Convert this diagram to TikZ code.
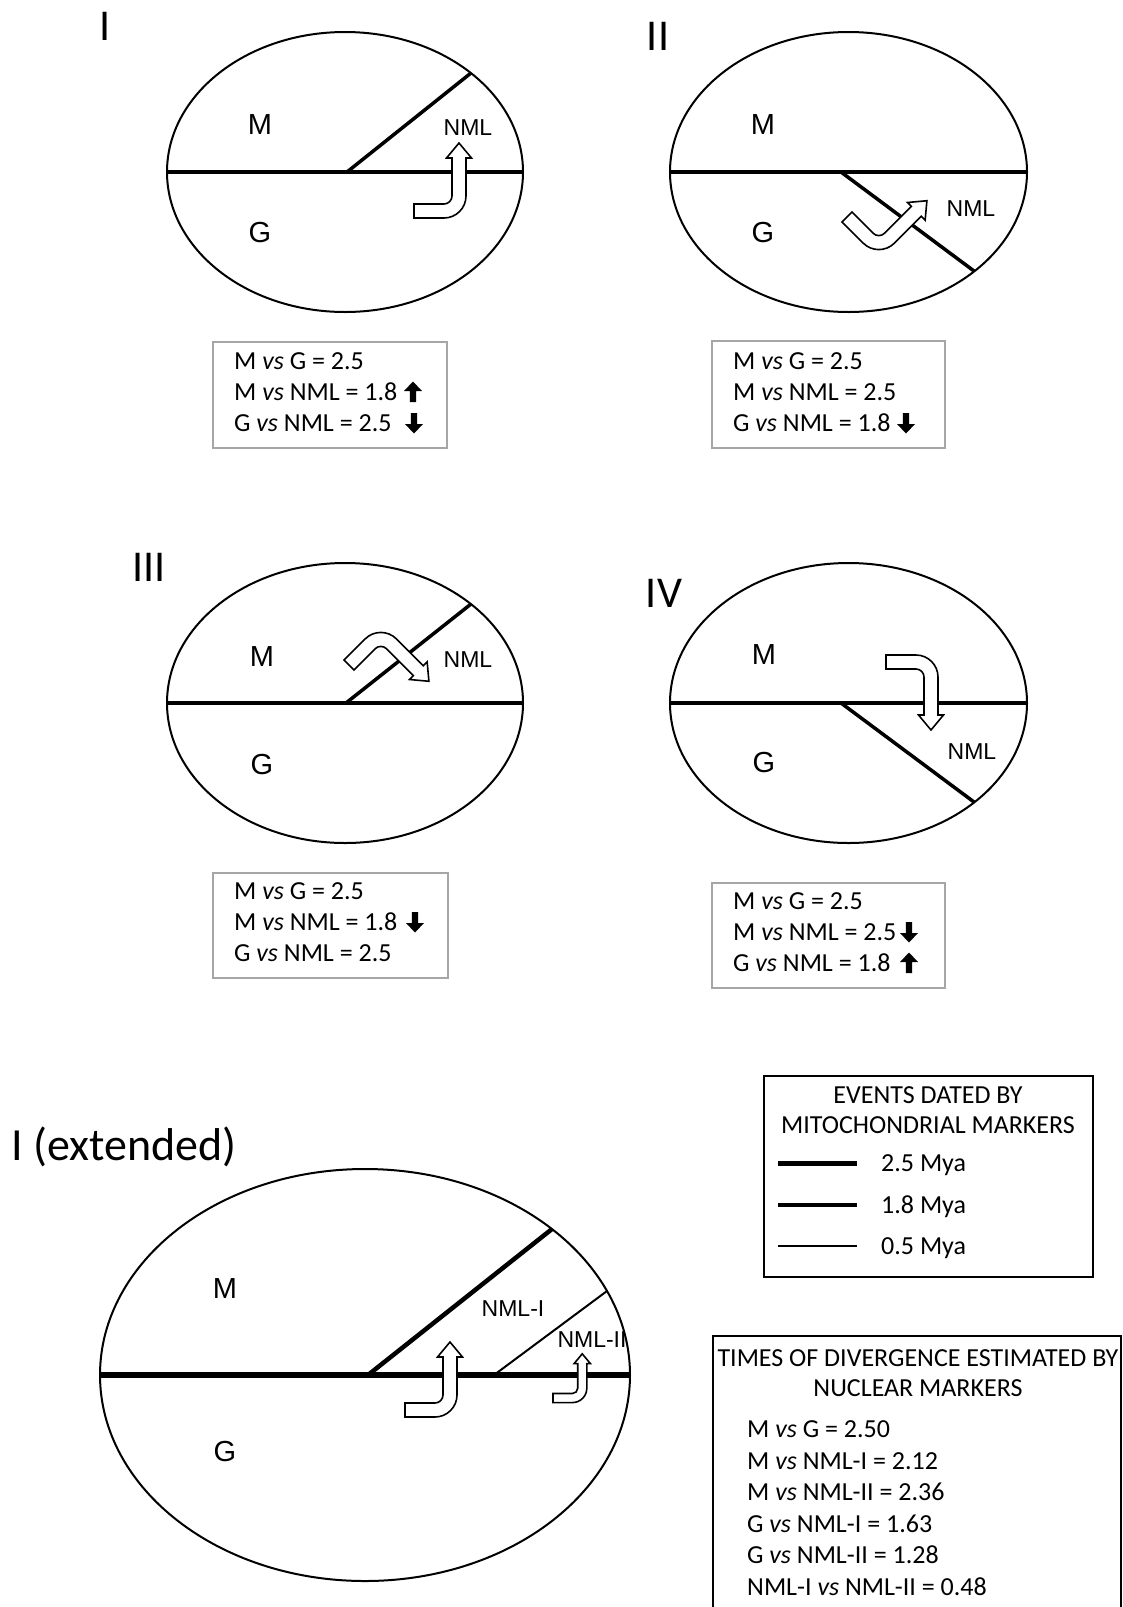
\documentclass[tikz,border=0pt]{standalone}
\usepackage{fontspec}
\setmainfont{Carlito}
\newfontfamily\arialf{Liberation Sans}
\usepackage{tikz}

\definecolor{boxgray}{RGB}{166,166,166}

\tikzset{
	cell/.style={draw=black, line width=2pt},
	border/.style={line width=4.5pt},
	split/.style={line width=3.5pt},
	turn/.style={draw=black, fill=white, line width=1.6pt, line join=miter},
	region/.style={font=\arialf\fontsize{29}{29}\selectfont},
	nml/.style={font=\arialf\fontsize{23}{23}\selectfont},
	panel/.style={font=\fontsize{44}{44}\selectfont, anchor=base},
	valbox/.style={draw=boxgray, line width=2pt},
	legbox/.style={draw=black, line width=2pt},
	val/.style={font=\fontsize{26}{26}\selectfont, anchor=base west, inner sep=0pt},
	head/.style={font=\fontsize{26}{26}\selectfont, anchor=base, inner sep=0pt},
}

\newcommand{\bentarrow}[1]{%
	\draw[turn,#1] (0,7) -- (30,7) .. controls (42.1,7) and (52,-2.9) .. (52,-15)
		-- (52,-53) -- (57.5,-53) -- (45,-68) -- (32.5,-53) -- (38,-53) -- (38,-15)
		.. controls (38,-10.6) and (34.4,-7) .. (30,-7) -- (0,-7) -- cycle;}
\newcommand{\boldup}[1]{%
	\fill[#1] (0,-10.5) -- (9,-1) -- (3.2,-1) -- (3.2,10) -- (-3.2,10) -- (-3.2,-1) -- (-9,-1) -- cycle;}

\begin{document}
\begin{tikzpicture}[x=1pt, y=-1pt]
	\useasboundingbox (0,0) rectangle (1123,1607);

	% I
	\node[panel] (tI) at (105,40) {I};
	\draw[border] (167,172) -- (523,172);
	\draw[split] (347,172) -- (471,73);
	\draw[cell] (345,172) ellipse [x radius=178pt, y radius=140pt];
	\node[region] (mI) at (260,125) {M};
	\node[region] (gI) at (260,233) {G};
	\node[nml] (nI) at (468,128) {NML};
	\bentarrow{shift={(414,211)}}

	\draw[valbox] (213,342) rectangle (447,448);
	\node[val] (vI1) at (234,369) {M \textit{vs} G = 2.5};
	\node[val] (vI2) at (234,400) {M \textit{vs} NML = 1.8};
	\node[val] (vI3) at (234,431) {G \textit{vs} NML = 2.5};
	\boldup{shift={(413,392)}}
	\boldup{shift={(414,423)},yscale=-1}

	% II
	\node[panel] (tII) at (658,50) {II};
	\draw[border] (670,172) -- (1027,172);
	\draw[split] (841,172) -- (974,271);
	\draw[cell] (848.5,172) ellipse [x radius=178.5pt, y radius=140pt];
	\node[region] (mII) at (763,125) {M};
	\node[region] (gII) at (763,233) {G};
	\node[nml] (nII) at (971,209) {NML};
	\bentarrow{shift={(847,217)},rotate=-45}

	\draw[valbox] (712,341) rectangle (945,448);
	\node[val] (vII1) at (733,369) {M \textit{vs} G = 2.5};
	\node[val] (vII2) at (733,400) {M \textit{vs} NML = 2.5};
	\node[val] (vII3) at (733,431) {G \textit{vs} NML = 1.8};
	\boldup{shift={(906,423)},yscale=-1}

	% III
	\node[panel] (tIII) at (149,581) {III};
	\draw[border] (167,703) -- (523,703);
	\draw[split] (346,703) -- (471,604);
	\draw[cell] (345,703) ellipse [x radius=178pt, y radius=140pt];
	\node[region] (mIII) at (262,657) {M};
	\node[region] (gIII) at (262,765) {G};
	\node[nml] (nIII) at (468,660) {NML};
	\bentarrow{shift={(349,665)},rotate=45,yscale=-1}

	\draw[valbox] (213,873) rectangle (448,978);
	\node[val] (vIII1) at (234,899) {M \textit{vs} G = 2.5};
	\node[val] (vIII2) at (234,930) {M \textit{vs} NML = 1.8};
	\node[val] (vIII3) at (234,961) {G \textit{vs} NML = 2.5};
	\boldup{shift={(415,922)},yscale=-1}

	% IV
	\node[panel] (tIV) at (664,607) {IV};
	\draw[border] (670,703) -- (1027,703);
	\draw[split] (841,703) -- (974,802);
	\draw[cell] (848.5,703) ellipse [x radius=178.5pt, y radius=140pt];
	\node[region] (mIV) at (764,655) {M};
	\node[region] (gIV) at (764,763) {G};
	\node[nml] (nIV) at (972,752) {NML};
	\bentarrow{shift={(886,662)},yscale=-1}

	\draw[valbox] (712,883) rectangle (945,988);
	\node[val] (vIV1) at (733,909) {M \textit{vs} G = 2.5};
	\node[val] (vIV2) at (733,940) {M \textit{vs} NML = 2.5};
	\node[val] (vIV3) at (733,971) {G \textit{vs} NML = 1.8};
	\boldup{shift={(909,932)},yscale=-1}
	\boldup{shift={(909,963)}}

	% I (extended)
	\node[panel, anchor=base west, font=\fontsize{46}{46}\selectfont] (tE) at (8,1160) {I (extended)};
	\draw[border, line width=5.5pt] (100,1375) -- (630,1375);
	\draw[split, line width=4.5pt] (368,1375) -- (552,1229);
	\draw[line width=2pt] (494,1375) -- (607,1291);
	\draw[cell] (365,1375) ellipse [x radius=265pt, y radius=206pt];
	\node[region] (mE) at (225,1289) {M};
	\node[region] (gE) at (225,1451) {G};
	\node[nml] (nE1) at (513,1309) {NML-I};
	\node[nml] (nE2) at (592,1340) {NML-II};
	\bentarrow{shift={(405,1410)}}
	\bentarrow{shift={(553,1398)},scale=0.65}

	% legend, mitochondrial
	\draw[legbox] (764,1076) rectangle (1093,1277);
	\node[head] (lm1) at (928,1103) {EVENTS DATED BY};
	\node[head] (lm2) at (928,1133) {MITOCHONDRIAL MARKERS};
	\draw[line width=5pt] (778,1163) -- (857,1163);
	\draw[line width=3.5pt] (778,1205) -- (857,1205);
	\draw[line width=1.7pt] (778,1246) -- (857,1246);
	\node[val] (la) at (881,1171) {2.5 Mya};
	\node[val] (lb) at (881,1213) {1.8 Mya};
	\node[val] (lc) at (881,1254) {0.5 Mya};

	% legend, nuclear
	\draw[legbox] (713,1336) rectangle (1121,1640);
	\node[head] (ln1) at (918,1366) {TIMES OF DIVERGENCE ESTIMATED BY};
	\node[head] (ln2) at (918,1396) {NUCLEAR MARKERS};
	\node[val] (n1) at (747,1437) {M \textit{vs} G = 2.50};
	\node[val] (n2) at (747,1469) {M \textit{vs} NML-I = 2.12};
	\node[val] (n3) at (747,1500) {M \textit{vs} NML-II = 2.36};
	\node[val] (n4) at (747,1532) {G \textit{vs} NML-I = 1.63};
	\node[val] (n5) at (747,1563) {G \textit{vs} NML-II = 1.28};
	\node[val] (n6) at (747,1595) {NML-I \textit{vs} NML-II = 0.48};
\end{tikzpicture}
\end{document}
